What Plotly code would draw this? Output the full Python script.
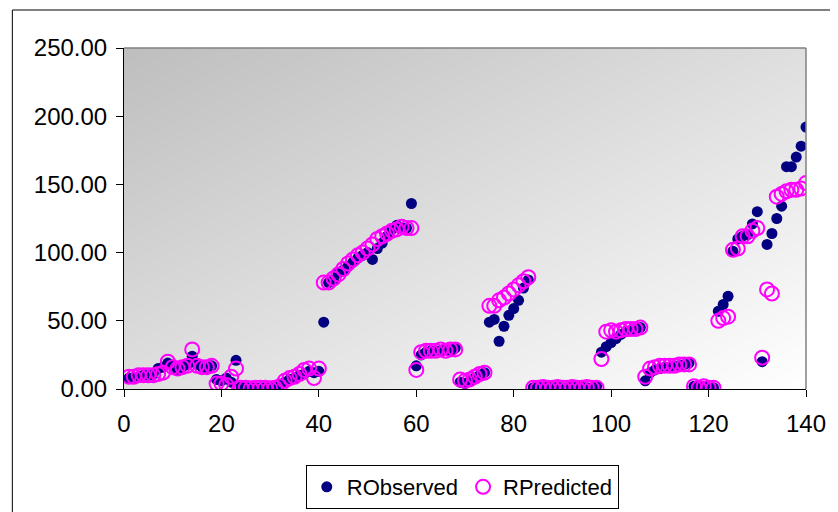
import numpy as np
import plotly.graph_objects as go

x_index = list(range(1, 141))

r_observed = [
    8, 8, 9, 10, 10, 11, 15, 16, 19, 17, 14, 16, 18, 24, 18, 16, 15, 17, 7, 6, 8, 5, 21,
    1.5, 1, 1.2, 0.8, 1, 1.3, 0.9, 1.1,
    3, 5, 7, 8, 10, 11, 13, 12, 13,
    49, 78, 80, 85, 87, 90, 93, 96, 98, 100, 95, 103, 107, 112, 117, 120, 118, 118, 136,
    17, 25, 27, 28, 28, 28, 29, 28, 30,
    5, 4, 6, 8, 10, 12,
    49, 51, 35, 46, 54, 59, 65, 74, 80,
    1, 1.5, 1, 2, 1, 1.5, 1, 1, 2, 1, 1.5, 1, 1, 2,
    27, 31, 34, 37, 40, 42, 43, 44, 45,
    6, 12, 14, 15, 16, 16, 17, 17, 18, 19,
    2, 1, 2, 1, 1,
    57, 62, 68, 101, 110, 112, 113, 121, 130, 20, 106, 114, 125, 134, 163, 163, 170, 178, 192,
]

r_predicted = [
    9, 9, 10, 10, 10, 10, 11, 12, 20, 16, 15, 16, 17, 29, 17, 16, 16, 17, 4, 4, 3, 9, 15,
    1, 1, 0.5, 1, 1, 1, 0.5, 1,
    2, 6, 8, 9, 11, 14, 15, 8, 15,
    78, 78, 81, 84, 88, 92, 95, 98, 100, 103, 106, 110, 112, 114, 116, 117, 119, 118, 118,
    14, 27, 28, 28, 28, 29, 28, 29, 29,
    7, 6, 7, 9, 11, 12,
    61, 61, 65, 67, 70, 73, 76, 79, 82,
    1, 1, 1.5, 1, 1, 1.5, 1, 1, 1.5, 1, 1, 1.5, 1, 1,
    22, 42, 43, 42, 43, 44, 44, 44, 45,
    9, 15, 16, 17, 17, 17, 17, 18, 18, 18,
    2, 1, 2, 1, 1,
    50, 52, 53, 102, 103, 112, 112, 116, 118, 23, 73, 70, 141, 143, 145, 146, 146, 147, 151,
]

y_ticks = [0, 50, 100, 150, 200, 250]
x_ticks = [0, 20, 40, 60, 80, 100, 120, 140]

FONT = "Liberation Sans, Arial, sans-serif"

# gradient background (grey top-left -> white bottom-right)
gx = np.linspace(0, 140, 15)
gy = np.linspace(0, 250, 11)
gz = [[1 - (xx / 140 + (1 - yy / 250)) / 2 for xx in gx] for yy in gy]

fig = go.Figure()
fig.add_trace(go.Heatmap(
    x=gx, y=gy, z=gz, zsmooth="best", showscale=False, hoverinfo="skip",
    colorscale=[[0, "rgb(255,255,255)"], [1, "rgb(190,190,190)"]],
    showlegend=False,
))
fig.add_trace(go.Scatter(
    x=x_index, y=r_observed, mode="markers", name="RObserved",
    marker=dict(symbol="circle", size=11, color="#000080", line=dict(width=0)),
))
fig.add_trace(go.Scatter(
    x=x_index, y=r_predicted, mode="markers", name="RPredicted",
    marker=dict(symbol="circle-open", size=14, color="#FF00FF", line=dict(width=2, color="#FF00FF")),
))

fig.update_layout(
    width=830, height=504,
    margin=dict(l=116, r=22, t=40, b=123),
    paper_bgcolor="white",
    plot_bgcolor="white",
    font=dict(family=FONT, size=24, color="black"),
    xaxis=dict(range=[0, 140], tickvals=x_ticks, ticktext=[str(v) for v in x_ticks],
               showgrid=False, zeroline=False, showline=True, linecolor="black", linewidth=1,
               ticks="outside", ticklen=7, tickcolor="black", tickfont=dict(size=24),
               ticklabelstandoff=6),
    yaxis=dict(range=[0, 250], tickvals=y_ticks, ticktext=["%.2f" % v for v in y_ticks],
               showgrid=False, zeroline=False, showline=True, linecolor="black", linewidth=1,
               ticks="outside", ticklen=7, tickcolor="black", tickfont=dict(size=24),
               ticklabelstandoff=4),
    legend=dict(orientation="h", xref="paper", x=0.496, xanchor="center",
                yref="container", y=0.0496, yanchor="middle",
                bordercolor="black", borderwidth=1, bgcolor="white", itemwidth=30,
                font=dict(family=FONT, size=22)),
    shapes=[
        dict(type="line", xref="paper", yref="paper", x0=0, x1=1, y0=1, y1=1,
             line=dict(color="#808080", width=1.5)),
        dict(type="line", xref="paper", yref="paper", x0=1, x1=1, y0=0, y1=1,
             line=dict(color="#808080", width=1.5)),
        dict(type="rect", xref="paper", yref="paper", x0=-0.1637, x1=1.06, y0=-0.40, y1=1.1114,
             line=dict(color="black", width=1), layer="below"),
    ],
)

fig.write_html("out.html")
